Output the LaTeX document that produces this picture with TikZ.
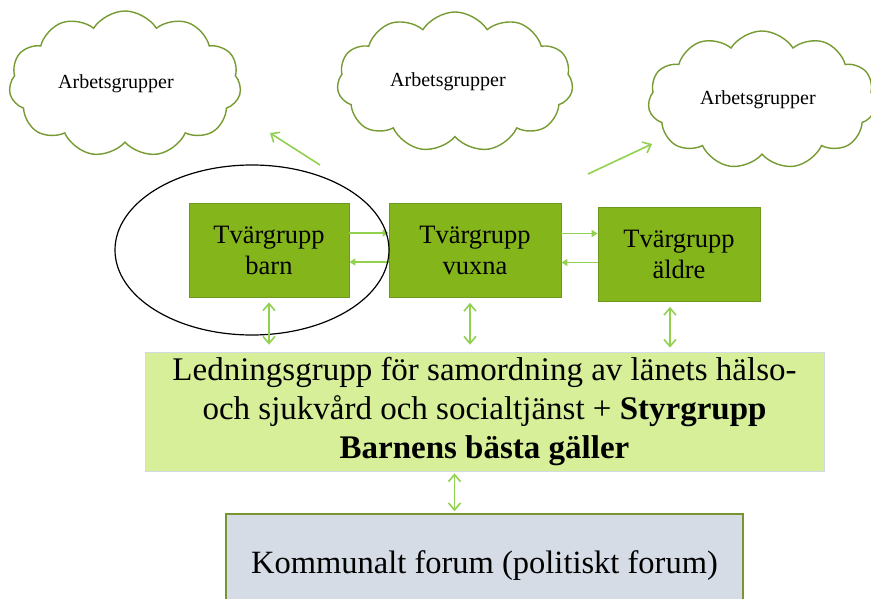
\documentclass[tikz,border=0pt]{standalone}
\usepackage{fontspec}
\setmainfont{Liberation Serif}
\usetikzlibrary{shapes.symbols,shapes.geometric,arrows.meta}

\definecolor{tvarfyll}{RGB}{132,182,28}
\definecolor{tvarkant}{RGB}{108,152,30}
\definecolor{ledfyll}{RGB}{214,239,152}
\definecolor{ledkant}{RGB}{210,218,230}
\definecolor{forumfyll}{RGB}{214,220,229}
\definecolor{forumkant}{RGB}{119,150,50}
\definecolor{molnkant}{RGB}{118,155,50}
\definecolor{pilfarg}{RGB}{146,208,80}

\tikzset{
	moln/.style={cloud, cloud puffs=11, cloud puff arc=115, cloud ignores aspect,
		draw=molnkant, line width=1.4pt, fill=white, inner sep=0pt,
		font=\fontsize{20}{24}\selectfont},
	tvar/.style={draw=tvarkant, fill=tvarfyll, line width=0.8pt, inner sep=0pt,
		minimum width=160pt, minimum height=94pt, align=center,
		font=\fontsize{26.5}{31}\selectfont},
	pil/.style={draw=pilfarg, line width=1.6pt},
	enkel/.style={-{Straight Barb[length=7pt,width=12pt]}},
	liten/.style={-{Triangle[length=6pt,width=7pt]}},
	dubbel/.style={{Straight Barb[length=7pt,width=12pt]}-{Straight Barb[length=7pt,width=12pt]}}
}

\begin{document}
\begin{tikzpicture}[x=1pt,y=-1pt]
	\clip (0,0) rectangle (871,599);

	% Arbetsgrupper
	\node[moln, minimum width=232pt, minimum height=146pt] (moln1) at (125,84) {Arbetsgrupper\hspace*{18pt}};
	\node[moln, minimum width=236pt, minimum height=140pt] (moln2) at (455,82) {Arbetsgrupper\hspace*{14pt}};
	\node[moln, minimum width=228pt, minimum height=138pt] (moln3) at (762,100) {Arbetsgrupper\hspace*{8pt}};

	% Pilar mot molnen
	\coordinate (p1a) at (320,165);
	\coordinate (p1b) at (270,133);
	\draw[pil, enkel] (p1a) -- (p1b);
	\coordinate (p2a) at (588,174);
	\coordinate (p2b) at (652,144);
	\draw[pil, enkel] (p2a) -- (p2b);

	% Tvärgrupper
	\node[tvar] (barn) at (269,250) {Tvärgrupp\\barn};
	\node[tvar, minimum width=172pt] (vuxna) at (475,250.5) {Tvärgrupp\\vuxna};
	\node[tvar, minimum width=162pt] (aldre) at (679,254.5) {Tvärgrupp\\äldre};

	% Pilar mellan tvärgrupperna
	\draw[pil, liten, line width=1.8pt] ([yshift=17pt]barn.east) -- ([yshift=17pt]barn.east -| vuxna.west);
	\draw[pil, liten, line width=1.8pt] ([yshift=-12pt]barn.east -| vuxna.west) -- ([yshift=-12pt]barn.east);
	\draw[pil, liten, line width=1.8pt] ([yshift=17pt]vuxna.east) -- ([yshift=17pt]vuxna.east -| aldre.west);
	\draw[pil, liten, line width=1.8pt] ([yshift=-12pt]vuxna.east -| aldre.west) -- ([yshift=-12pt]vuxna.east);

	% Ring runt barn
	\node[ellipse, draw=black, line width=1.2pt, minimum width=274pt, minimum height=170pt] (ring) at (252,250) {};

	% Ledningsgrupp
	\node[draw=ledkant, fill=ledfyll, line width=0.8pt, minimum width=679pt, minimum height=119pt,
		align=center, font=\fontsize{33}{39}\selectfont] (led) at (484.5,411.5)
		{Ledningsgrupp för samordning av länets hälso-\\och sjukvård och socialtjänst + \textbf{Styrgrupp}\\\textbf{Barnens bästa gäller}};

	% Kommunalt forum
	\node[draw=forumkant, fill=forumfyll, line width=1.6pt, minimum width=517pt, minimum height=104pt,
		font=\fontsize{32.5}{38}\selectfont] (forum) at (484.5,566) {Kommunalt forum (politiskt forum)};

	% Pilar till ledningsgruppen
	\draw[pil, dubbel, shorten <=5pt, shorten >=7pt] (barn.south) -- (barn.south |- led.north);
	\draw[pil, dubbel, shorten <=5pt, shorten >=7pt] ([xshift=-5pt]vuxna.south) -- ([xshift=-5pt]vuxna.south |- led.north);
	\draw[pil, dubbel, shorten <=5pt, shorten >=4pt] ([xshift=-9pt]aldre.south) -- ([xshift=-9pt]aldre.south |- led.north);
	\draw[pil, dubbel, shorten <=2pt, shorten >=2pt] ([xshift=-30pt]led.south) -- ([xshift=-30pt]led.south |- forum.north);
\end{tikzpicture}
\end{document}
